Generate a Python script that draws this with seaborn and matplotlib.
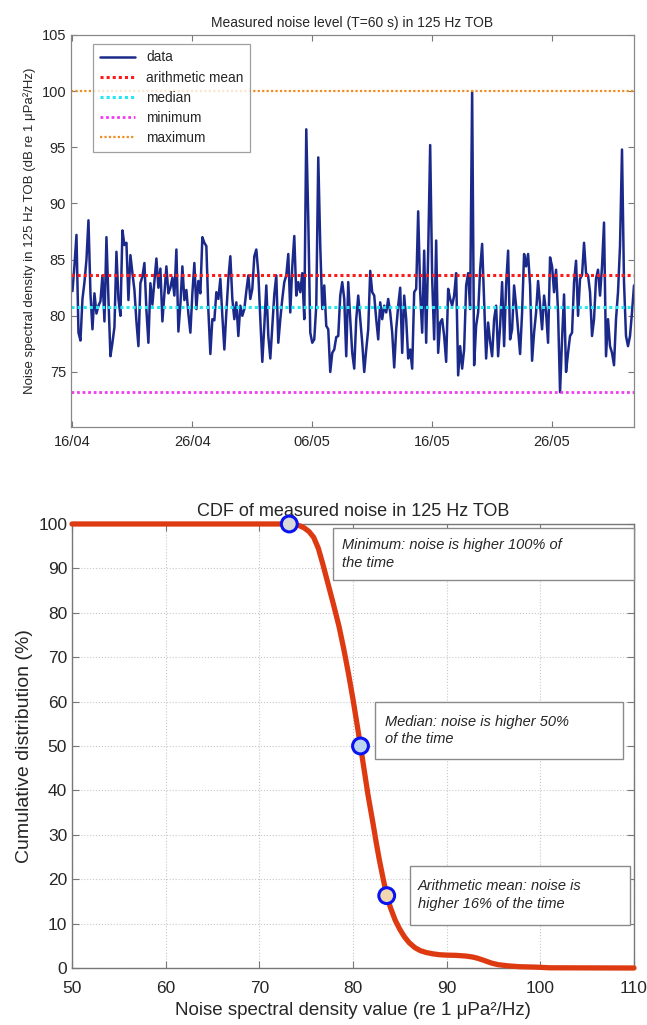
import matplotlib
matplotlib.use('Agg')
import pandas as pd
import matplotlib.pyplot as plt
import matplotlib.dates as mdates
from matplotlib.patches import Rectangle
import seaborn as sns

# --- top panel: noise level every 4 h, 16/04 -> 02/06
noise_db = [
    # 16/04 - 27/04
    82.2, 84.5, 87.2, 78.5, 77.8, 81.5, 83.0, 85.0, 88.5, 82.0, 78.8, 82.0,
    80.2, 80.9, 81.3, 83.6, 79.5, 87.0, 81.5, 76.4, 77.6, 79.0, 85.7, 81.5,
    80.0, 87.6, 86.3, 86.5, 81.4, 85.4, 83.8, 82.3, 79.5, 77.3, 82.9, 83.5,
    84.7, 80.5, 77.6, 82.9, 81.0, 83.0, 85.1, 82.5, 84.2, 79.5, 82.0, 84.4,
    82.0, 82.5, 83.4, 81.8, 85.9, 78.6, 81.0, 84.4, 81.4, 82.3, 80.2, 78.5,
    82.0, 84.7, 80.6, 83.1, 82.0, 87.0, 86.5, 86.2,
    # 27/04 - 09/05
    80.5, 76.6, 79.7, 79.6, 82.1, 81.5, 83.3, 80.0, 77.0, 80.3, 83.3, 85.3,
    81.5, 79.7, 81.2, 78.2, 80.9, 80.0, 80.6, 82.2, 83.6, 81.5, 82.4, 85.3,
    85.9, 83.8, 79.7, 75.9, 79.1, 82.7, 78.2, 76.2, 79.1, 81.9, 83.6, 77.6,
    79.7, 81.5, 83.0, 83.6, 85.5, 80.3, 84.4, 87.1, 81.8, 83.0, 82.1, 83.8,
    79.7, 96.6, 88.6, 78.5, 77.6, 77.9, 80.9, 94.1, 86.2, 80.6, 82.7, 79.1,
    78.8, 75.0, 76.7, 77.0, 78.1, 78.2, 81.8, 83.0, 81.5, 76.4,
    # 09/05 - 21/05
    83.0, 79.7, 76.7, 75.3, 79.7, 81.8, 79.7, 77.6, 75.0, 77.0, 78.8, 84.0,
    82.1, 81.8, 79.7, 77.9, 81.2, 79.7, 80.9, 80.3, 81.5, 80.3, 78.5, 75.4,
    78.8, 80.9, 82.5, 76.7, 81.8, 79.7, 76.2, 77.0, 75.3, 82.1, 82.4, 89.3,
    82.1, 78.5, 85.8, 77.6, 85.6, 95.2, 83.3, 77.9, 86.7, 76.7, 79.4, 79.7,
    78.2, 75.9, 82.4, 81.5, 80.9, 81.8, 83.8, 74.7, 77.3, 75.3, 77.0, 82.7,
    83.8, 80.6, 100.0, 75.6, 79.1, 80.3, 84.1, 86.4, 81.2, 76.2,
    # 21/05 - 02/06
    79.4, 77.7, 76.4, 79.7, 80.9, 76.4, 79.1, 83.0, 77.3, 82.7, 85.8, 77.9,
    78.8, 82.7, 80.9, 78.8, 76.6, 80.3, 85.5, 84.4, 85.5, 82.7, 76.0, 78.5,
    80.3, 83.1, 80.9, 78.8, 81.8, 80.3, 77.6, 85.2, 84.4, 82.1, 84.1, 80.3,
    73.2, 77.9, 81.9, 75.0, 76.7, 78.2, 78.5, 83.0, 84.9, 80.0, 83.3, 83.6,
    86.5, 83.8, 83.6, 82.1, 78.2, 79.7, 83.3, 84.1, 81.8, 84.4, 88.3, 76.4,
    79.7, 77.3, 76.7, 75.6, 79.7, 82.1, 86.2, 94.8, 83.0, 78.2, 77.3, 78.2,
    80.3, 82.7,
]
start_time = '2014-04-16 00:00'
tick_days = ['2014-04-16', '2014-04-26', '2014-05-06', '2014-05-16', '2014-05-26']

mean_db = 83.6      # energy (arithmetic) mean
median_db = 80.8

# --- bottom panel: exceedance curve
cdf_level = [50, 73, 73.8, 74.3, 74.8, 75.3, 75.8, 76.3, 76.8, 77.4, 77.9, 78.5,
             79.0, 79.5, 80.0, 80.4, 80.8, 81.2, 81.6, 82.1, 82.5, 82.8, 83.2,
             83.6, 84.0, 84.5, 85.0, 85.5, 86.0, 86.6, 87.2, 87.8, 88.5, 89.2,
             90.0, 91.0, 92.0, 92.7, 93.3, 94.0, 94.8, 95.5, 96.5, 97.7, 99.5,
             101, 110]
cdf_pct = [100, 100, 99.8, 99.6, 99.1, 98.3, 97.0, 94.5, 90.8, 86.0, 82.0, 77.0,
           72.0, 66.5, 60.5, 55.3, 50.0, 44.5, 39.0, 33.0, 28.0, 24.5, 20.3,
           16.3, 13.6, 10.8, 8.7, 7.0, 5.7, 4.6, 3.9, 3.5, 3.2, 3.0,
           2.9, 2.85, 2.7, 2.5, 2.2, 1.7, 1.1, 0.75, 0.5, 0.3, 0.2,
           0.05, 0]
marker_level = [73.2, 80.8, 83.6]
marker_pct = [100, 50, 16.3]
marker_face = ['#d9d9d9', '#bcd6f0', '#f2d8b0']
notes = ['Minimum: noise is higher 100% of\nthe time',
         'Median: noise is higher 50%\nof the time',
         'Arithmetic mean: noise is\nhigher 16% of the time']

sns.set_style('ticks')
plt.rcParams['font.family'] = ['Liberation Sans', 'DejaVu Sans']

fig = plt.figure(figsize=(6.47, 10.25), dpi=100)

# ---------------- top panel
ax1 = fig.add_axes([0.1097, 0.5834, 0.8702, 0.3825])
times = pd.date_range(start_time, periods=len(noise_db), freq='4h')
df = pd.DataFrame({'time': times, 'level': noise_db})

sns.lineplot(data=df, x='time', y='level', ax=ax1, color='#1b2a8a', lw=1.8, label='data')
dots = (0, (1, 1))
ax1.axhline(mean_db, color='#ff1a1a', ls=dots, lw=2.2, label='arithmetic mean')
ax1.axhline(median_db, color='#22e8f0', ls=dots, lw=2.2, label='median')
ax1.axhline(min(noise_db), color='#f03cf0', ls=dots, lw=2.0, label='minimum')
ax1.axhline(max(noise_db), color='#f08c20', ls=dots, lw=1.6, label='maximum')

ax1.set_xlim(times[0] - pd.Timedelta(hours=3), times[-1])
ax1.set_ylim(70.1, 105)
ax1.set_yticks(range(75, 106, 5))
ax1.set_xticks(pd.to_datetime(tick_days))
ax1.xaxis.set_major_formatter(mdates.DateFormatter('%d/%m'))
ax1.set_xlabel('')
ax1.set_ylabel('Noise spectral density in 125 Hz TOB (dB re 1 μPa²/Hz)', fontsize=9.5, labelpad=4)
ax1.set_title('Measured noise level (T=60 s) in 125 Hz TOB', fontsize=10, pad=6)
ax1.tick_params(direction='in', top=True, right=True, length=4, width=0.8,
                color='#777777', labelsize=10.5)
ax1.tick_params(axis='x', pad=6)
for s in ax1.spines.values():
    s.set_visible(True)
    s.set_color('#888888')
    s.set_linewidth(0.9)

leg = ax1.legend(loc='upper left', bbox_to_anchor=(0.039, 0.978), borderaxespad=0,
                 fontsize=9.8, frameon=True, fancybox=False, handlelength=2.6,
                 labelspacing=0.45, borderpad=0.5)
leg.get_frame().set_edgecolor('#888888')
leg.get_frame().set_linewidth(0.9)

# ---------------- bottom panel
ax2 = fig.add_axes([0.1113, 0.0556, 0.8686, 0.4332])
cdf = pd.DataFrame({'level': cdf_level, 'pct': cdf_pct})
sns.lineplot(data=cdf, x='level', y='pct', ax=ax2, color='#dd3a12', lw=3.8, clip_on=False, zorder=3)
ax2.scatter(marker_level, marker_pct, s=130, facecolors=marker_face, edgecolors='#0a14f0',
            linewidths=2.2, zorder=5, clip_on=False)

ax2.set_xlim(50, 110)
ax2.set_ylim(0, 100)
ax2.set_xticks(range(50, 111, 10))
ax2.set_yticks(range(0, 101, 10))
ax2.grid(True, ls=':', color='#c8c8c8', lw=0.8)
ax2.set_title('CDF of measured noise in 125 Hz TOB', fontsize=13, pad=6)
ax2.set_xlabel('Noise spectral density value (re 1 μPa²/Hz)', fontsize=13.5, labelpad=5)
ax2.set_ylabel('Cumulative distribution (%)', fontsize=14, labelpad=4)
ax2.tick_params(direction='in', top=True, right=True, length=5, width=0.8,
                color='#777777', labelsize=12.5)
ax2.tick_params(axis='x', pad=9)
for s in ax2.spines.values():
    s.set_visible(True)
    s.set_color('#777777')
    s.set_linewidth(1.0)

# annotation boxes
note_boxes = [(77.9, 87.4, 32.1, 11.7), (82.4, 47.1, 26.4, 12.8), (86.1, 9.7, 23.5, 13.3)]
note_xy = [(78.8, 93.3), (83.4, 53.5), (86.9, 16.4)]
for (bx, by, bw, bh), (tx, ty), txt in zip(note_boxes, note_xy, notes):
    ax2.add_patch(Rectangle((bx, by), bw, bh, facecolor='white', edgecolor='#8a8a8a',
                            lw=1.0, zorder=4, clip_on=False))
    ax2.text(tx, ty, txt, fontsize=10.5, style='italic', va='center', ha='left',
             linespacing=1.35, zorder=6)

fig.savefig('out.png', dpi=100)
plt.close(fig)
